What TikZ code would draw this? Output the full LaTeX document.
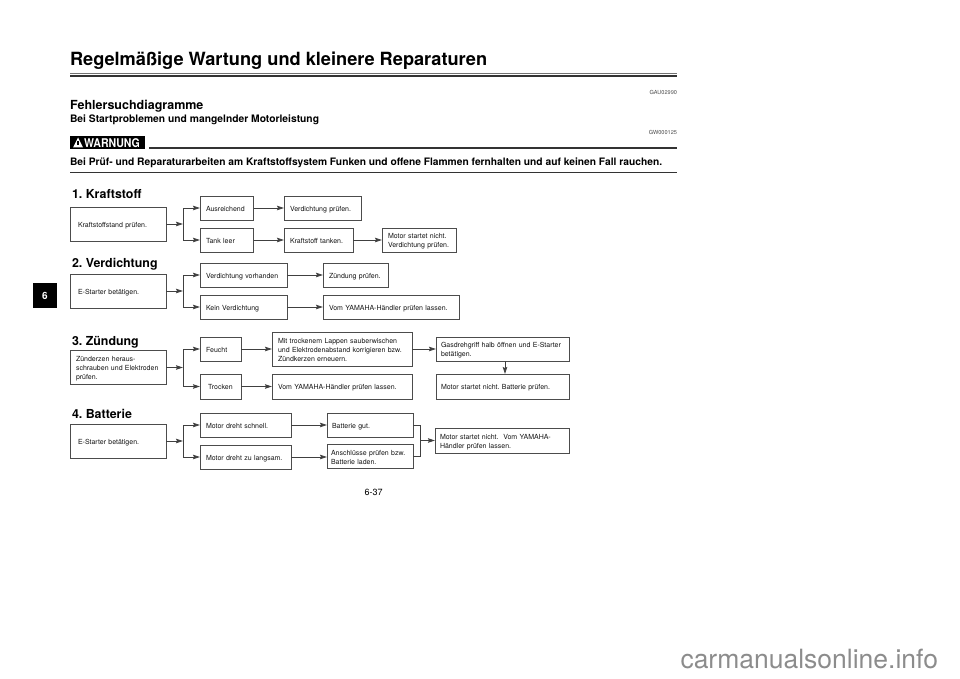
\documentclass[tikz,border=0pt]{standalone}
\usepackage{fontspec}
\setmainfont{TeX Gyre Heros}
\usetikzlibrary{arrows.meta}
\definecolor{linegray}{gray}{0.3}
\definecolor{inkgray}{gray}{0.08}
\frenchspacing
\tikzset{
    flowbox/.style={draw=linegray, line width=0.9pt, anchor=west, align=left, inner xsep=6pt, inner ysep=0pt, outer sep=0pt, text=inkgray, font=\fontsize{7}{9}\selectfont, execute at begin node={\rule{0pt}{9pt}}, execute at end node={\rule[-2.4pt]{0pt}{2.4pt}}},
    flowarrow/.style={draw=black!75, line width=0.8pt, -{Stealth[length=7pt,width=4.5pt,inset=1pt]}},
    flowline/.style={draw=black!75, line width=0.8pt},
    headrule/.style={draw=black!80, line width=#1},
    plain/.style={inner sep=0pt, outer sep=0pt, anchor=base west},
    section/.style={plain, font=\fontsize{12.4}{16}\bfseries\selectfont},
    codetag/.style={inner sep=0pt, outer sep=0pt, anchor=base east, text=black!70, font=\fontsize{5.6}{6}\selectfont},
}
\begin{document}
\begin{tikzpicture}[x=1pt, y=-1pt]
    \useasboundingbox (0,0) rectangle (960,679);

    % Page head
    \node[plain, font=\fontsize{18.2}{22}\bfseries\selectfont] (title) at (70,66) {Regelmäßige Wartung und kleinere Reparaturen};
    \draw[headrule=0.7pt, draw=black!55] (70,73) -- (677,73);
    \draw[headrule=1.2pt] (70,76) -- (677,76);
    \node[codetag] (gau) at (677,94.5) {GAU02990};
    \node[plain, font=\fontsize{12.5}{15}\bfseries\selectfont] (heading) at (70,109.5) {Fehlersuchdiagramme};
    \node[plain, font=\fontsize{10.3}{12}\bfseries\selectfont] (subheading) at (70,123) {Bei Startproblemen und mangelnder Motorleistung};
    \node[codetag] (gw) at (677,134.5) {GW000125};

    % Warning
    \node[fill=black, minimum width=75pt, minimum height=13pt, inner sep=0pt, anchor=west] (warnbox) at (70,142.5) {};
    \node[plain, text=white, font=\fontsize{12}{12}\bfseries\selectfont] (warntext) at (84,147.2) {\scalebox{0.88}[1]{WARNUNG}};
    \fill[white] (78,137.5) -- (73,147.5) -- (83,147.5) -- cycle;
    \fill[black] (77.4,141) rectangle (78.6,145);
    \draw[headrule=1.2pt] (149,148) -- (677,148);
    \node[plain, font=\fontsize{10.25}{12}\bfseries\selectfont] (warnline) at (70,165) {Bei Prüf- und Reparaturarbeiten am Kraftstoffsystem Funken und offene Flammen fernhalten und auf keinen Fall rauchen.};
    \draw[headrule=1.2pt] (70,172.5) -- (677,172.5);

    % Chapter tab
    \node[fill=black, text=white, minimum width=24pt, minimum height=25pt, inner sep=0pt, font=\fontsize{10}{12}\bfseries\selectfont] (tab) at (45,295.5) {6};

    % 1. Kraftstoff
    \node[section] (fuel) at (72,198) {1. Kraftstoff};
    \node[flowbox, inner xsep=8pt, text width=80pt, minimum height=34pt] (fuelcheck) at (70,224) {Kraftstoffstand prüfen.};
    \node[flowbox, text width=41.5pt, minimum height=24pt] (fuelok) at (200,208) {Ausreichend};
    \node[flowbox, text width=41.5pt, minimum height=24pt] (fuelempty) at (200,240) {Tank leer};
    \node[flowbox, text width=65pt, minimum height=24pt] (fuelnext) at (284,208) {Verdichtung prüfen.};
    \node[flowbox, text width=57pt, minimum height=24pt] (fuelfill) at (284,240) {Kraftstoff tanken.};
    \node[flowbox, text width=62pt, minimum height=24pt] (fuelfail) at (382,240) {Motor startet nicht.\\Verdichtung prüfen.};
    \coordinate (fuelsplit) at (183,224);
    \draw[flowarrow] (fuelcheck) -- (fuelsplit);
    \draw[flowarrow] (fuelsplit) |- (fuelok);
    \draw[flowarrow] (fuelsplit) |- (fuelempty);
    \draw[flowarrow] (fuelok) -- (fuelnext);
    \draw[flowarrow] (fuelempty) -- (fuelfill);
    \draw[flowarrow] (fuelfill) -- (fuelfail);

    % 2. Verdichtung
    \node[section] (comp) at (72,267) {2. Verdichtung};
    \node[flowbox, inner xsep=8pt, text width=80pt, minimum height=34pt] (compcheck) at (70,291) {E-Starter betätigen.};
    \node[flowbox, text width=75pt, minimum height=24pt] (compok) at (200,275) {Verdichtung vorhanden};
    \node[flowbox, text width=75pt, minimum height=24pt] (compnone) at (200,307) {Kein Verdichtung};
    \node[flowbox, text width=53pt, minimum height=24pt] (compnext) at (323,275) {Zündung prüfen.};
    \node[flowbox, text width=124pt, minimum height=24pt] (compdealer) at (323,307) {Vom YAMAHA-Händler prüfen lassen.};
    \coordinate (compsplit) at (183,291);
    \draw[flowarrow] (compcheck) -- (compsplit);
    \draw[flowarrow] (compsplit) |- (compok);
    \draw[flowarrow] (compsplit) |- (compnone);
    \draw[flowarrow] (compok) -- (compnext);
    \draw[flowarrow] (compnone) -- (compdealer);

    % 3. Zündung
    \node[section] (spark) at (72,345) {3. Zündung};
    \node[flowbox, text width=84pt, minimum height=34pt] (sparkcheck) at (70,367.5) {Zünderzen heraus-\\schrauben und Elektroden\\prüfen.};
    \node[flowbox, text width=29pt, minimum height=24pt] (sparkwet) at (200,349) {Feucht};
    \node[flowbox, text width=29pt, minimum height=25pt, align=center] (sparkdry) at (200,386.5) {Trocken};
    \node[flowbox, text width=128pt, minimum height=34pt] (sparkclean) at (272,349) {Mit trockenem Lappen sauberwischen\\und Elektrodenabstand korrigieren bzw.\\Zündkerzen erneuern.};
    \node[flowbox, text width=128pt, minimum height=25pt] (sparkdealer) at (272,386.5) {Vom YAMAHA-Händler prüfen lassen.};
    \node[flowbox, inner xsep=5pt, text width=123pt, minimum height=24pt] (sparkgas) at (436,349) {Gasdrehgriff halb öffnen und E-Starter\\betätigen.};
    \node[flowbox, inner xsep=5pt, text width=123pt, minimum height=25pt] (sparkfail) at (436,386.5) {Motor startet nicht. Batterie prüfen.};
    \coordinate (sparksplit) at (183,367.5);
    \draw[flowarrow] (sparkcheck) -- (sparksplit);
    \draw[flowarrow] (sparksplit) |- (sparkwet);
    \draw[flowarrow] (sparksplit) |- (sparkdry);
    \draw[flowarrow] (sparkwet) -- (sparkclean);
    \draw[flowarrow] (sparkdry) -- (sparkdealer);
    \draw[flowarrow] (sparkclean) -- (sparkgas);
    \draw[flowarrow] ([xshift=2.5pt]sparkgas.south) -- ([xshift=2.5pt]sparkfail.north);

    % 4. Batterie
    \node[section] (batt) at (72,418) {4. Batterie};
    \node[flowbox, inner xsep=8pt, text width=80pt, minimum height=34pt] (battcheck) at (70,441) {E-Starter betätigen.};
    \node[flowbox, text width=79pt, minimum height=24pt] (battfast) at (200,425) {Motor dreht schnell.};
    \node[flowbox, text width=79pt, minimum height=24pt] (battslow) at (200,457) {Motor dreht zu langsam.};
    \node[flowbox, inner xsep=5pt, text width=76pt, minimum height=24pt] (battgood) at (327,425) {Batterie gut.};
    \node[flowbox, inner xsep=4pt, text width=78pt, minimum height=24pt] (battcharge) at (327,456.5) {Anschlüsse prüfen bzw.\\Batterie laden.};
    \node[flowbox, inner xsep=5pt, text width=124pt, minimum height=25pt] (battfail) at (435,440.5) {Motor startet nicht.~~Vom YAMAHA-\\Händler prüfen lassen.};
    \coordinate (battsplit) at (183,441);
    \coordinate (battjoin) at (420.5,440.5);
    \draw[flowarrow] (battcheck) -- (battsplit);
    \draw[flowarrow] (battsplit) |- (battfast);
    \draw[flowarrow] (battsplit) |- (battslow);
    \draw[flowarrow] (battfast) -- (battgood);
    \draw[flowarrow] (battslow) -- (battslow -| battcharge.west);
    \draw[flowline] (battgood) -| (battjoin) |- (battcharge);
    \draw[flowarrow] (battjoin) -- (battfail);

    % Page foot
    \node[inner sep=0pt, font=\fontsize{9}{11}\selectfont] (pagenum) at (373.5,492.5) {6-37};
    \node[plain, text=black!45, font=\fontsize{26.5}{30}\selectfont] (site) at (680.5,668) {carmanualsonline.info};
\end{tikzpicture}
\end{document}
